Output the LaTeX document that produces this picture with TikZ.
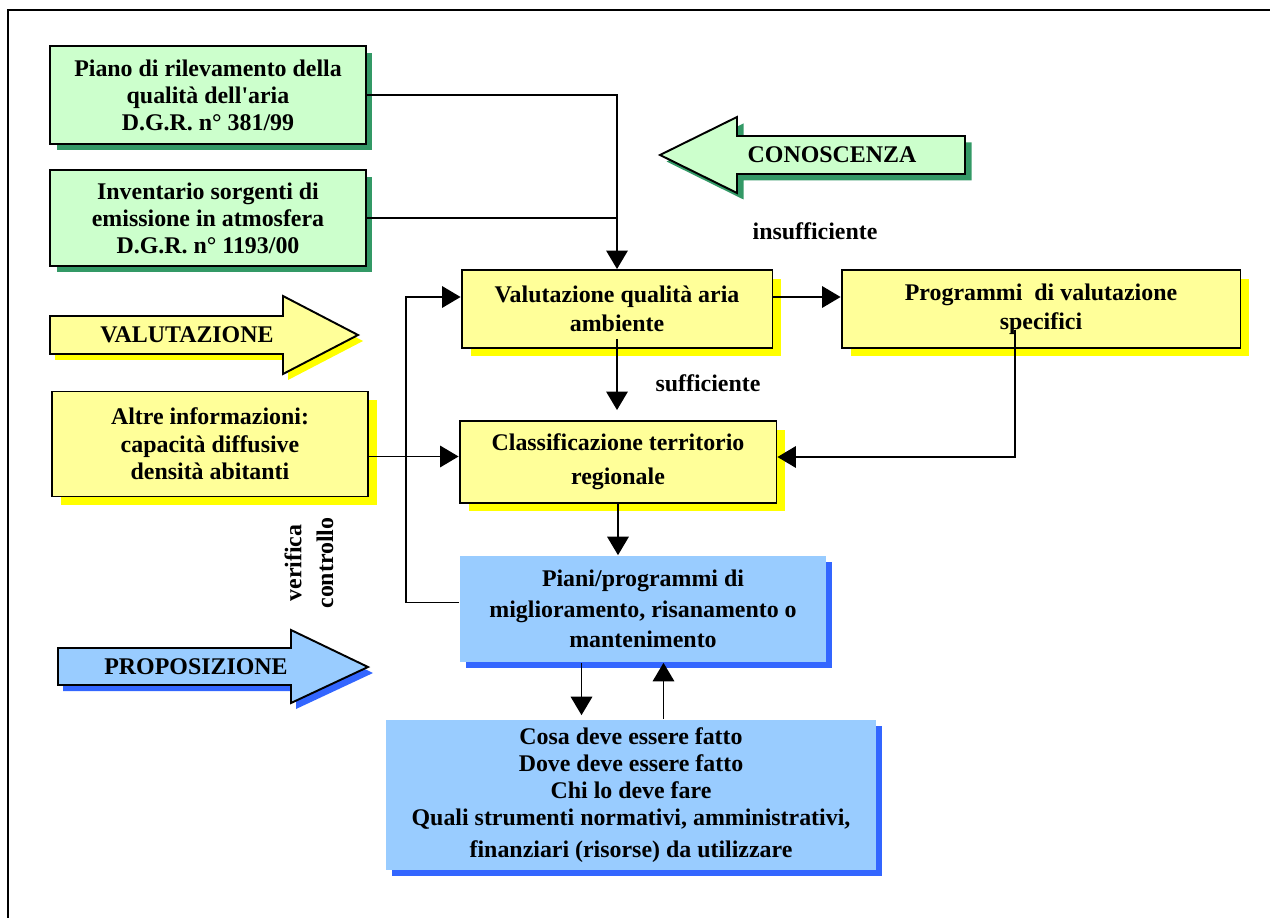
\documentclass[tikz,border=0pt]{standalone}
\usepackage{fontspec}
\setmainfont{Liberation Serif}
\usetikzlibrary{arrows.meta, shadows}
\definecolor{verdeChiaro}{RGB}{204,255,204}
\definecolor{verdeOmbra}{RGB}{51,153,102}
\definecolor{gialloChiaro}{RGB}{255,255,153}
\definecolor{gialloOmbra}{RGB}{255,255,0}
\definecolor{azzurroChiaro}{RGB}{153,204,255}
\definecolor{bluOmbra}{RGB}{51,102,255}

\begin{document}
\begin{tikzpicture}[x=0.02cm, y=-0.02cm,
    testo/.style={font=\bfseries\fontsize{13.6pt}{15.4pt}\selectfont, align=center, inner sep=0pt},
    ombraVerde/.style={drop shadow={shadow xshift=0.13cm, shadow yshift=-0.13cm, fill=verdeOmbra, opacity=1}},
    ombraGialla/.style={drop shadow={shadow xshift=0.18cm, shadow yshift=-0.17cm, fill=gialloOmbra, opacity=1}},
    ombraBlu/.style={drop shadow={shadow xshift=0.12cm, shadow yshift=-0.12cm, fill=bluOmbra, opacity=1}},
    boxVerde/.style={testo, draw=black, line width=1.1pt, fill=verdeChiaro, minimum width=6.32cm, ombraVerde},
    boxGiallo/.style={testo, draw=black, line width=1.1pt, fill=gialloChiaro, ombraGialla},
    boxBlu/.style={testo, fill=azzurroChiaro, ombraBlu},
    freccione/.style={draw=black, line width=1.1pt, line join=miter},
    linea/.style={line width=1pt},
    freccia/.style={line width=1pt, -{Triangle[length=0.37cm, width=0.43cm]}}
]
    \useasboundingbox (0,0) rectangle (1270,918);
    % cornice
    \draw[line width=1.1pt] (8,918) -- (8,10) -- (1270,10);

    % riquadri
    \node[boxVerde, minimum height=1.96cm] (piano) at (208,95) {Piano di rilevamento della\\qualità dell\textquotesingle aria\\D.G.R. n° 381/99};
    \node[boxVerde, minimum height=1.92cm] (invent) at (208,218) {Inventario sorgenti di\\emissione in atmosfera\\D.G.R. n° 1193/00};
    \node[boxGiallo, minimum width=6.32cm, minimum height=2.1cm, font=\bfseries\fontsize{13.6pt}{15.6pt}\selectfont] (altre) at (210,444) {Altre informazioni:\\capacità diffusive\\densità abitanti};
    \node[boxGiallo, minimum width=6.22cm, minimum height=1.56cm, font=\bfseries\fontsize{13.6pt}{16.4pt}\selectfont] (valut) at (617,309) {Valutazione qualità aria\\ambiente};
    \node[boxGiallo, minimum width=7.98cm, minimum height=1.56cm, font=\bfseries\fontsize{13.6pt}{16.4pt}\selectfont] (prog) at (1041,309) {Programmi\ \ di valutazione\\specifici};
    \node[boxGiallo, minimum width=6.34cm, minimum height=1.64cm, font=\bfseries\fontsize{13.6pt}{19.3pt}\selectfont] (class) at (618,462) {Classificazione territorio\\regionale};
    \node[boxBlu, minimum width=7.34cm, minimum height=2.14cm, font=\bfseries\fontsize{13.6pt}{17.3pt}\selectfont] (piani) at (643,609) {Piani/programmi di\\miglioramento, risanamento o\\mantenimento};
    \node[boxBlu, minimum width=9.82cm, minimum height=3.02cm] (basso) at (631,795) {Cosa deve essere fatto\\Dove deve essere fatto\\Chi lo deve fare\\Quali strumenti normativi, amministrativi,\\[3pt]finanziari (risorse) da utilizzare};

    % frecce grandi
    \filldraw[freccione, fill=verdeChiaro, ombraVerde] (965,136) -- (737,136) -- (737,117) -- (660,155) -- (737,193) -- (737,174) -- (965,174) -- cycle;
    \node[testo] (conoscenza) at (832,155) {CONOSCENZA};
    \filldraw[freccione, fill=gialloChiaro, drop shadow={shadow xshift=0.1cm, shadow yshift=-0.12cm, fill=gialloOmbra, opacity=1}] (50,316) -- (283,316) -- (283,296) -- (358,335) -- (283,374) -- (283,354) -- (50,354) -- cycle;
    \node[testo] (valutazione) at (187,335) {VALUTAZIONE};
    \filldraw[freccione, fill=azzurroChiaro, drop shadow={shadow xshift=0.1cm, shadow yshift=-0.12cm, fill=bluOmbra, opacity=1}] (58,648) -- (291,648) -- (291,630) -- (368,667) -- (291,703) -- (291,685) -- (58,685) -- cycle;
    \node[testo] (proposizione) at (196,667) {PROPOSIZIONE};

    % etichette
    \node[testo] (insuff) at (815,231) {insufficiente};
    \node[testo] (suff) at (708,383) {sufficiente};
    \node[testo, rotate=90, font=\bfseries\fontsize{13.6pt}{18pt}\selectfont] (verifica) at (309,563) {verifica\\controllo};

    % collegamenti
    \draw[freccia] (piano.east) -| (valut.north);
    \draw[linea] (invent.east) -- (invent.east -| valut.north);
    \draw[freccia] ([yshift=0.24cm]valut.east) -- ([yshift=0.24cm]prog.west);
    \draw[freccia] ([yshift=0.2cm]valut.south) -- ([yshift=0.2cm]valut.south |- class.north);
    \draw[freccia] ([shift={(-26,21)}]prog.center) |- ([yshift=0.1cm]class.east);
    \draw[freccia] ([yshift=-0.25cm]altre.east) -- ([yshift=-0.25cm]altre.east -| class.west);
    \draw[freccia] (class.south) -- (class.south |- piani.north);
    \draw[freccia] ([yshift=0.13cm]piani.west) -- ++(-53,0) |- ([yshift=0.24cm]valut.west);
    \draw[freccia] ([xshift=-1.23cm]piani.south) -- ([xshift=-1.23cm, yshift=0.08cm]piani.south |- basso.north);
    \draw[freccia] ([xshift=0.41cm]piani.south |- basso.north) -- ([xshift=0.41cm]piani.south);
\end{tikzpicture}
\end{document}
